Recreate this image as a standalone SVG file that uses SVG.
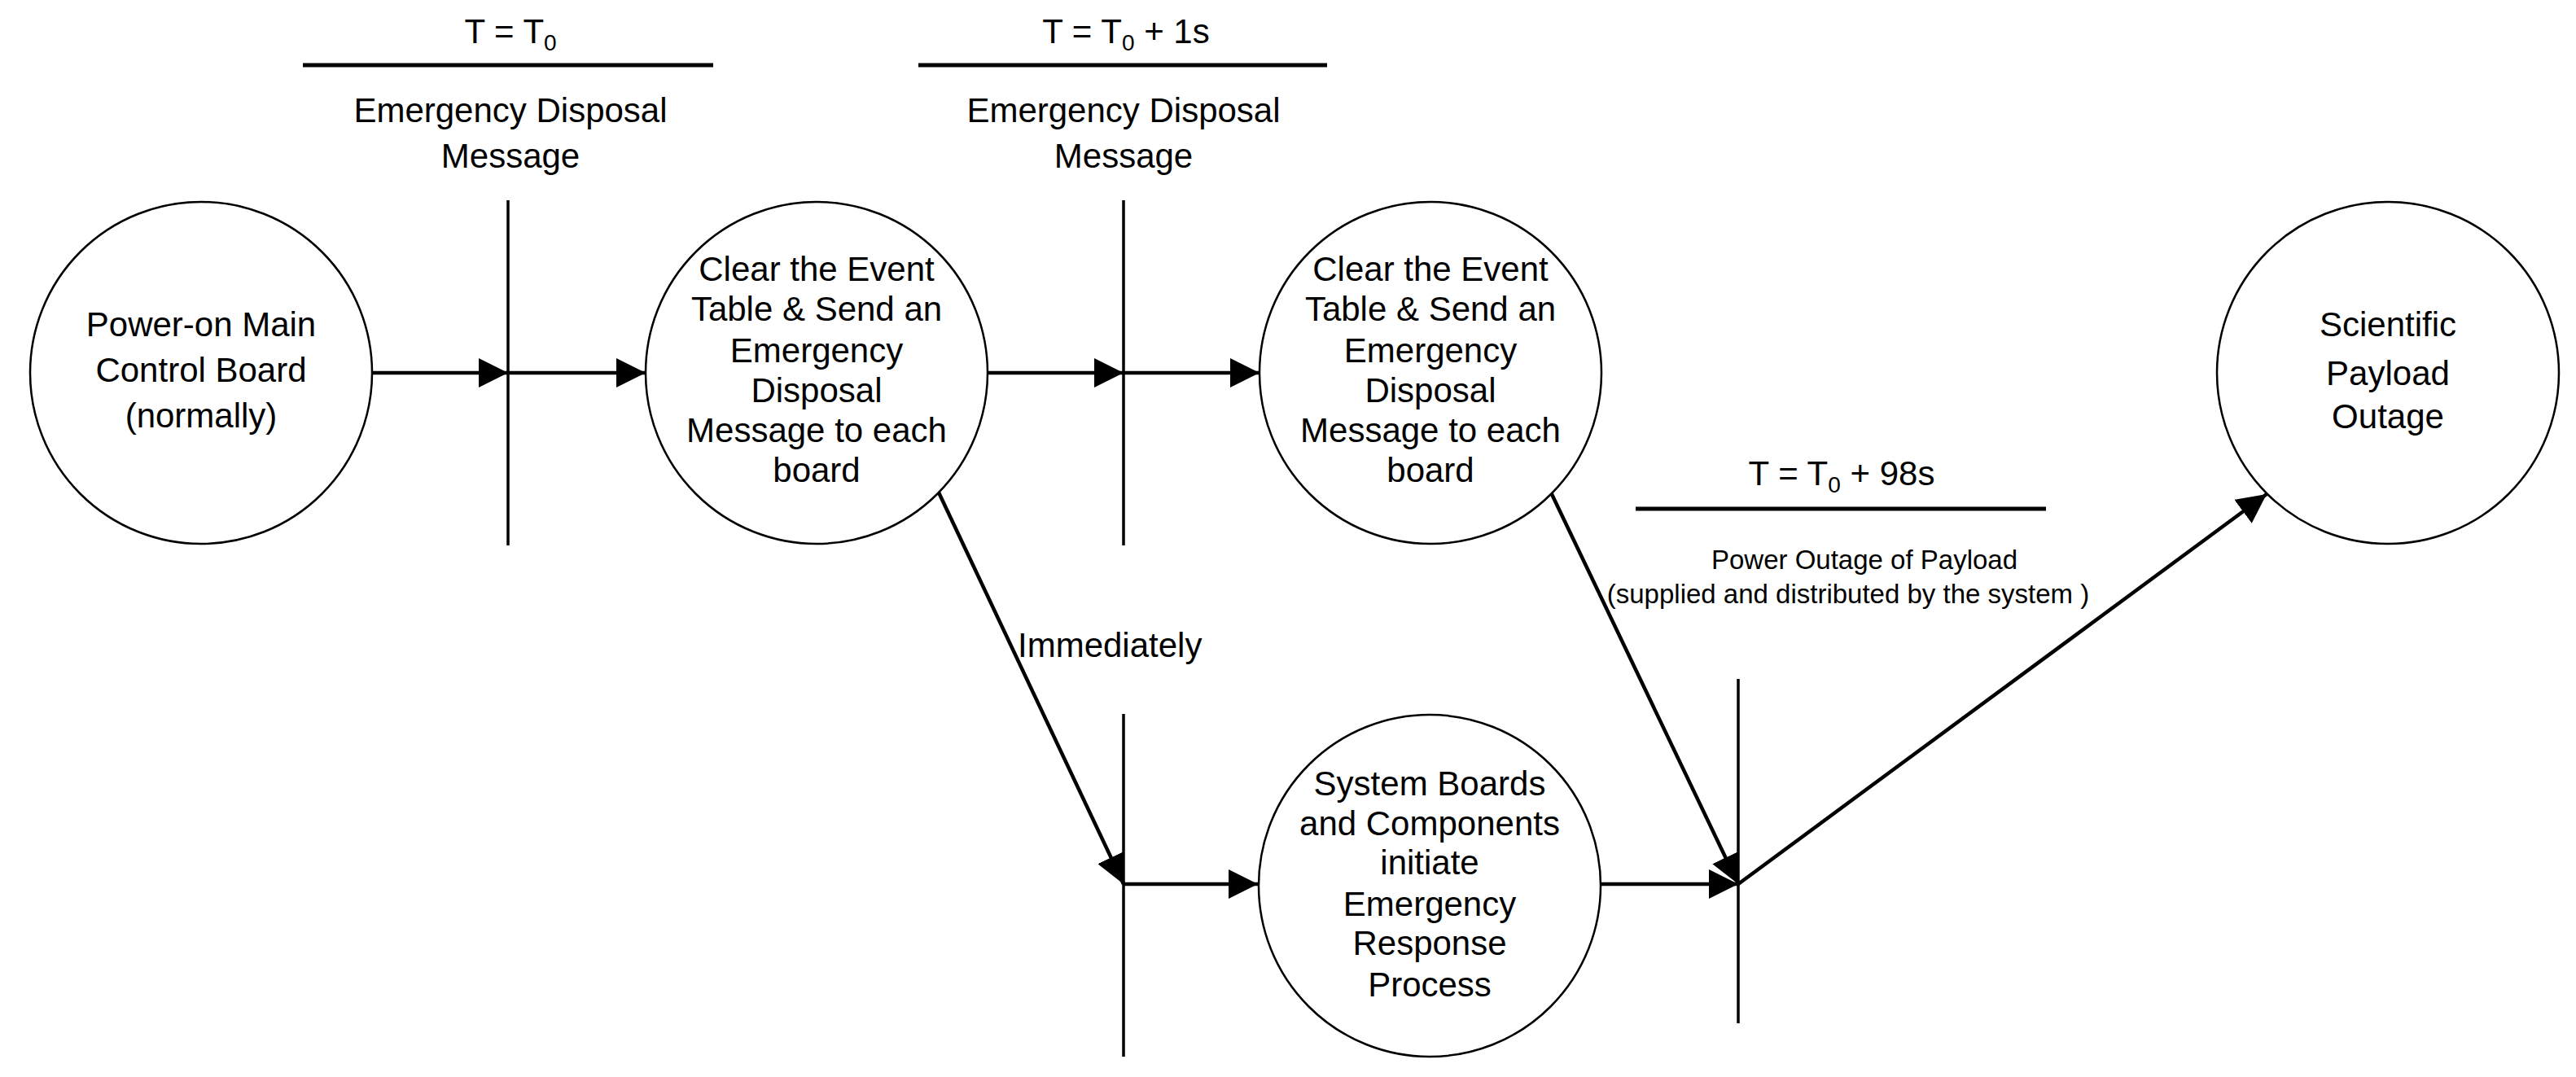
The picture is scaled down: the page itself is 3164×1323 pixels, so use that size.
<svg xmlns="http://www.w3.org/2000/svg" width="3164" height="1323" viewBox="0 0 3164 1323">
<style>
text{font-family:"Liberation Sans",Arial,sans-serif;fill:#000;text-anchor:middle}
.n{font-size:42px}
.s{font-size:33px}
.c{fill:#fff;stroke:#000;stroke-width:2.5}
.bar{stroke:#000;stroke-width:3.5}
.top{stroke:#000;stroke-width:5}
.a{stroke:#000;stroke-width:4.5;fill:none;marker-end:url(#ah)}
.sub{font-size:28px}
</style>
<defs>
<marker id="ah" viewBox="0 0 10 10" refX="10" refY="5" markerWidth="8" markerHeight="8" markerUnits="strokeWidth" orient="auto">
<path d="M0,0 L10,5 L0,10 z" fill="#000"/>
</marker>
</defs>
<rect width="3164" height="1323" fill="#fff"/>
<g id="bars">
<line class="bar" x1="624" y1="246" x2="624" y2="670"/>
<line class="bar" x1="1380" y1="246" x2="1380" y2="670"/>
<line class="bar" x1="1380" y1="877" x2="1380" y2="1298"/>
<line class="bar" x1="2135" y1="834" x2="2135" y2="1257"/>
<line class="top" x1="372" y1="80" x2="876" y2="80"/>
<line class="top" x1="1128" y1="80" x2="1630" y2="80"/>
<line class="top" x1="2009" y1="625" x2="2513" y2="625"/>
</g>
<g id="labels">
<text class="n" x="627" y="53">T = T<tspan class="sub" dy="9">0</tspan></text>
<text class="n" x="627" y="150">Emergency Disposal</text>
<text class="n" x="627" y="206">Message</text>
<text class="n" x="1383" y="53">T = T<tspan class="sub" dy="9">0</tspan><tspan dy="-9"> + 1s</tspan></text>
<text class="n" x="1380" y="150">Emergency Disposal</text>
<text class="n" x="1380" y="206">Message</text>
<text class="n" x="2262" y="596">T = T<tspan class="sub" dy="9">0</tspan><tspan dy="-9"> + 98s</tspan></text>
<text class="s" x="2290" y="699">Power Outage of Payload</text>
<text class="s" x="2270" y="741">(supplied and distributed by the system )</text>
<text class="n" x="1250" y="807" style="text-anchor:start">Immediately</text>
</g>
<g id="connectors">
<line class="a" x1="457" y1="458" x2="624" y2="458"/>
<line class="a" x1="624" y1="458" x2="793" y2="458"/>
<line class="a" x1="1213" y1="458" x2="1380" y2="458"/>
<line class="a" x1="1380" y1="458" x2="1547" y2="458"/>
<line class="a" x1="1153" y1="605" x2="1380" y2="1086"/>
<line class="a" x1="1380" y1="1086" x2="1545" y2="1086"/>
<line class="a" x1="1967" y1="1086" x2="2135" y2="1086"/>
<line class="a" x1="1905" y1="605" x2="2135" y2="1086"/>
<line class="a" x1="2135" y1="1086" x2="2784" y2="607"/>
</g>
<g id="n1"><circle class="c" cx="247" cy="458" r="210"/>
<text class="n" x="247" y="413">Power-on Main</text><text class="n" x="247" y="469">Control Board</text><text class="n" x="247" y="525">(normally)</text></g>
<g id="n2"><circle class="c" cx="1003" cy="458" r="210"/>
<text class="n" x="1003" y="345">Clear the Event</text><text class="n" x="1003" y="394">Table &amp; Send an</text><text class="n" x="1003" y="445">Emergency</text><text class="n" x="1003" y="494">Disposal</text><text class="n" x="1003" y="543">Message to each</text><text class="n" x="1003" y="592">board</text></g>
<g id="n3"><circle class="c" cx="1757" cy="458" r="210"/>
<text class="n" x="1757" y="345">Clear the Event</text><text class="n" x="1757" y="394">Table &amp; Send an</text><text class="n" x="1757" y="445">Emergency</text><text class="n" x="1757" y="494">Disposal</text><text class="n" x="1757" y="543">Message to each</text><text class="n" x="1757" y="592">board</text></g>
<g id="n4"><circle class="c" cx="2933" cy="458" r="210"/>
<text class="n" x="2933" y="413">Scientific</text><text class="n" x="2933" y="473">Payload</text><text class="n" x="2933" y="526">Outage</text></g>
<g id="n5"><circle class="c" cx="1756" cy="1088" r="210"/>
<text class="n" x="1756" y="977">System Boards</text><text class="n" x="1756" y="1026">and Components</text><text class="n" x="1756" y="1074">initiate</text><text class="n" x="1756" y="1125">Emergency</text><text class="n" x="1756" y="1173">Response</text><text class="n" x="1756" y="1224">Process</text></g>
</svg>
